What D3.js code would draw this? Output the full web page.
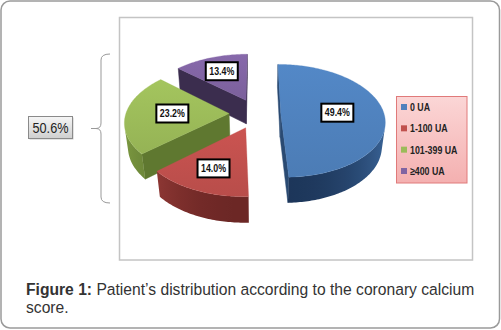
<!DOCTYPE html>
<html><head><meta charset="utf-8">
<script src="https://cdn.jsdelivr.net/npm/d3@7/dist/d3.min.js"></script>
<style>
html,body{margin:0;padding:0;background:#fff;}
svg{display:block;}
</style></head>
<body>
<svg id="c" width="501" height="330"></svg>
<script>
// ---- data ----
const categories = ["0 UA", "1-100 UA", "101-399 UA", "\u2265400 UA"];
const values = [49.4, 14.0, 23.2, 13.4];
const valueLabels = ["49.4%", "14.0%", "23.2%", "13.4%"];
const groupLabel = "50.6%";
const captionBold = "Figure 1:";
const captionLine1 = " Patient\u2019s distribution according to the coronary calcium";
const captionLine2 = "score.";

// ---- styles ----
const topColors  = ["#4f81bd", "#c0504d", "#9bbb59", "#8064a2"];
const wallLight  = ["#3b679b", "#a8433f", "#7f9c42", "#5c4978"];
const wallDark   = ["#1d365a", "#6c2725", "#5a7230", "#3a2c4d"];
const cutColors  = ["#2a4a72", "#7a2e2c", "#5f7830", "#3b2d4e"];
const explode    = [0.23, 0.27, 0.27, 0.27];
const labelR     = [0.55, 0.68, 0.55, 0.66];

const svg = d3.select("#c");
const defs = svg.append("defs");

// condense text like a narrow font
function condense(sel, factor) {
  sel.each(function () {
    const w = this.getComputedTextLength();
    d3.select(this).attr("textLength", w * factor).attr("lengthAdjust", "spacingAndGlyphs");
  });
}

// outer rounded frame
svg.append("rect").attr("x", 1).attr("y", 1).attr("width", 498.5).attr("height", 327)
  .attr("rx", 9).attr("fill", "#fff").attr("stroke", "#9a9a9a").attr("stroke-width", 1.5);

// chart area
svg.append("rect").attr("x", 119.5).attr("y", 17.5).attr("width", 353).attr("height", 242.5)
  .attr("fill", "#fff").attr("stroke", "#c4c4c4").attr("stroke-width", 1.5);

// ---- 3D pie projection ----
const cx = 257, cy = 113.5, D = 6.2, cT = 0.83, sT = 0.56, fx = 640, fy = 614, H = 0.3;
function P(X, Y, Z) {
  const d = D - (Z * cT + Y * sT);
  return [cx + fx * X / d, cy + fy * (Z * sT - Y * cT) / d];
}
const cam = [0, D * sT, D * cT];

const pie = d3.pie().sort(null).startAngle(0).endAngle(2 * Math.PI);
const arcs = pie(values);

const slices = arcs.map((a, i) => {
  const m = (a.startAngle + a.endAngle) / 2;
  const ox = explode[i] * Math.sin(m), oz = -explode[i] * Math.cos(m);
  return { i, a1: a.startAngle, a2: a.endAngle, m, ox, oz };
});

function pt(s, ang, r, Y) {
  return P(s.ox + r * Math.sin(ang), Y, s.oz - r * Math.cos(ang));
}
function poly(points) {
  const p = d3.path();
  points.forEach((q, k) => k ? p.lineTo(q[0], q[1]) : p.moveTo(q[0], q[1]));
  p.closePath();
  return p.toString();
}
const gPie = svg.append("g");
const order = slices.slice().sort((a, b) => a.oz - b.oz);

order.forEach(s => {
  const i = s.i;
  const g = gPie.append("g");
  const n = Math.max(8, Math.ceil((s.a2 - s.a1) / (Math.PI / 180)));
  const angs = d3.range(n + 1).map(k => s.a1 + (s.a2 - s.a1) * k / n);

  // radial cut faces
  [[s.a1, -1], [s.a2, 1]].forEach(([ang, sign]) => {
    const nx = sign * Math.cos(ang), nz = sign * Math.sin(ang);
    const X = s.ox + 0.5 * Math.sin(ang), Z = s.oz - 0.5 * Math.cos(ang);
    const dot = nx * (cam[0] - X) + nz * (cam[2] - Z);
    if (dot > 0) {
      g.append("path").attr("d", poly([pt(s, ang, 0, 0), pt(s, ang, 1, 0), pt(s, ang, 1, -H), pt(s, ang, 0, -H)]))
        .attr("fill", cutColors[i]).attr("stroke", cutColors[i]).attr("stroke-width", 0.5);
    }
  });

  // outer wall: contiguous visible runs
  const vis = angs.map(ang => {
    const X = s.ox + Math.sin(ang), Z = s.oz - Math.cos(ang);
    return Math.sin(ang) * (cam[0] - X) + (-Math.cos(ang)) * (cam[2] - Z) > 0;
  });
  let runs = [], cur = [];
  angs.forEach((ang, k) => {
    if (vis[k]) cur.push(ang); else if (cur.length) { runs.push(cur); cur = []; }
  });
  if (cur.length) runs.push(cur);
  runs.forEach((run, ri) => {
    if (run.length < 2) return;
    const topPts = run.map(a => pt(s, a, 1, 0));
    const botPts = run.map(a => pt(s, a, 1, -H)).reverse();
    const xs = topPts.map(q => q[0]);
    const x0 = d3.min(xs), x1 = d3.max(xs);
    const gid = "wall" + i + "_" + ri;
    const grad = defs.append("linearGradient").attr("id", gid)
      .attr("gradientUnits", "userSpaceOnUse").attr("x1", x0).attr("x2", x1).attr("y1", 0).attr("y2", 0);
    const shade = d3.interpolateRgb(wallLight[i], wallDark[i]);
    const stops = run.map((a, k) => ({ off: (topPts[k][0] - x0) / Math.max(1, x1 - x0), t: Math.pow(Math.abs(Math.cos(a)), 2) }))
      .sort((u, v) => u.off - v.off);
    stops.filter((_, k) => k % 4 === 0 || k === stops.length - 1).forEach(st =>
      grad.append("stop").attr("offset", st.off).attr("stop-color", shade(st.t)));
    g.append("path").attr("d", poly(topPts.concat(botPts)))
      .attr("fill", "url(#" + gid + ")").attr("stroke", "none");
  });

  // top face
  const tid = "top" + i;
  const tg = defs.append("linearGradient").attr("id", tid).attr("x1", 0).attr("y1", 0).attr("x2", 0).attr("y2", 1);
  tg.append("stop").attr("offset", 0).attr("stop-color", d3.color(topColors[i]).brighter(0.15));
  tg.append("stop").attr("offset", 1).attr("stop-color", d3.color(topColors[i]).darker(0.12));
  const topPts = [pt(s, s.a1, 0, 0)].concat(angs.map(a => pt(s, a, 1, 0)));
  g.append("path").attr("d", poly(topPts)).attr("fill", "url(#" + tid + ")")
    .attr("stroke", topColors[i]).attr("stroke-width", 0.3);
});

// value labels
const labelFont = "'Liberation Sans',Arial,sans-serif";
slices.forEach(s => {
  const c = pt(s, s.m, labelR[s.i], 0);
  const g = svg.append("g").attr("transform", `translate(${c[0]},${c[1]})`);
  g.append("rect").attr("x", -16).attr("y", -9).attr("width", 32).attr("height", 18)
    .attr("fill", "#fff").attr("stroke", "#000").attr("stroke-width", 2);
  g.append("text").attr("text-anchor", "middle").attr("y", 3.8)
    .attr("font-family", labelFont).attr("font-weight", "bold").attr("font-size", 10.5)
    .attr("fill", "#111").text(valueLabels[s.i])
    .attr("textLength", 25).attr("lengthAdjust", "spacingAndGlyphs");
});

// legend
const lg = defs.append("linearGradient").attr("id", "lgbg").attr("x1", 0).attr("y1", 0).attr("x2", 0).attr("y2", 1);
lg.append("stop").attr("offset", 0).attr("stop-color", "#fbd6d6");
lg.append("stop").attr("offset", 1).attr("stop-color", "#f4b0b0");
svg.append("rect").attr("x", 396.5).attr("y", 96.5).attr("width", 70.5).attr("height", 86.5)
  .attr("fill", "url(#lgbg)").attr("stroke", "#e07a7a").attr("stroke-width", 1);
const ly = d3.scalePoint().domain(categories).range([107, 171]);
categories.forEach((c, i) => {
  svg.append("rect").attr("x", 401).attr("y", ly(c) - 3).attr("width", 6).attr("height", 6).attr("fill", topColors[i]);
  svg.append("text").attr("x", 410).attr("y", ly(c) + 4)
    .attr("font-family", labelFont).attr("font-weight", "bold").attr("font-size", 11)
    .attr("fill", "#222").text(c).call(condense, 0.8);
});

// bracket
svg.append("path")
  .attr("d", "M110,54 Q101,54 101,60 L101,123 Q101,128.5 96,128.5 L91,128.5 M96,128.5 Q101,128.5 101,134 L101,197 Q101,203 110,203")
  .attr("fill", "none").attr("stroke", "#999").attr("stroke-width", 1);

// group label box
const bg = defs.append("linearGradient").attr("id", "gbox").attr("x1", 0).attr("y1", 0).attr("x2", 0).attr("y2", 1);
bg.append("stop").attr("offset", 0).attr("stop-color", "#f6f6f6");
bg.append("stop").attr("offset", 1).attr("stop-color", "#cfcfcf");
svg.append("rect").attr("x", 29.5).attr("y", 117.5).attr("width", 44).attr("height", 22)
  .attr("fill", "#c8c8c8");
svg.append("rect").attr("x", 28.5).attr("y", 116.5).attr("width", 44).attr("height", 22)
  .attr("fill", "url(#gbox)").attr("stroke", "#8a8a8a").attr("stroke-width", 1);
svg.append("text").attr("x", 50.5).attr("y", 132.5).attr("text-anchor", "middle")
  .attr("font-family", "'Liberation Sans',Arial,sans-serif").attr("font-size", 14.5)
  .attr("fill", "#222").text(groupLabel)
  .attr("textLength", 36).attr("lengthAdjust", "spacingAndGlyphs");

// caption
const cap = svg.append("text").attr("x", 26).attr("y", 295)
  .attr("font-family", "'Liberation Sans',Arial,sans-serif").attr("font-size", 15.65).attr("fill", "#333");
cap.append("tspan").attr("font-weight", "bold").text(captionBold);
cap.append("tspan").text(captionLine1);
svg.append("text").attr("x", 26).attr("y", 313)
  .attr("font-family", "'Liberation Sans',Arial,sans-serif").attr("font-size", 15.65).attr("fill", "#333")
  .text(captionLine2);
</script>
</body></html>
